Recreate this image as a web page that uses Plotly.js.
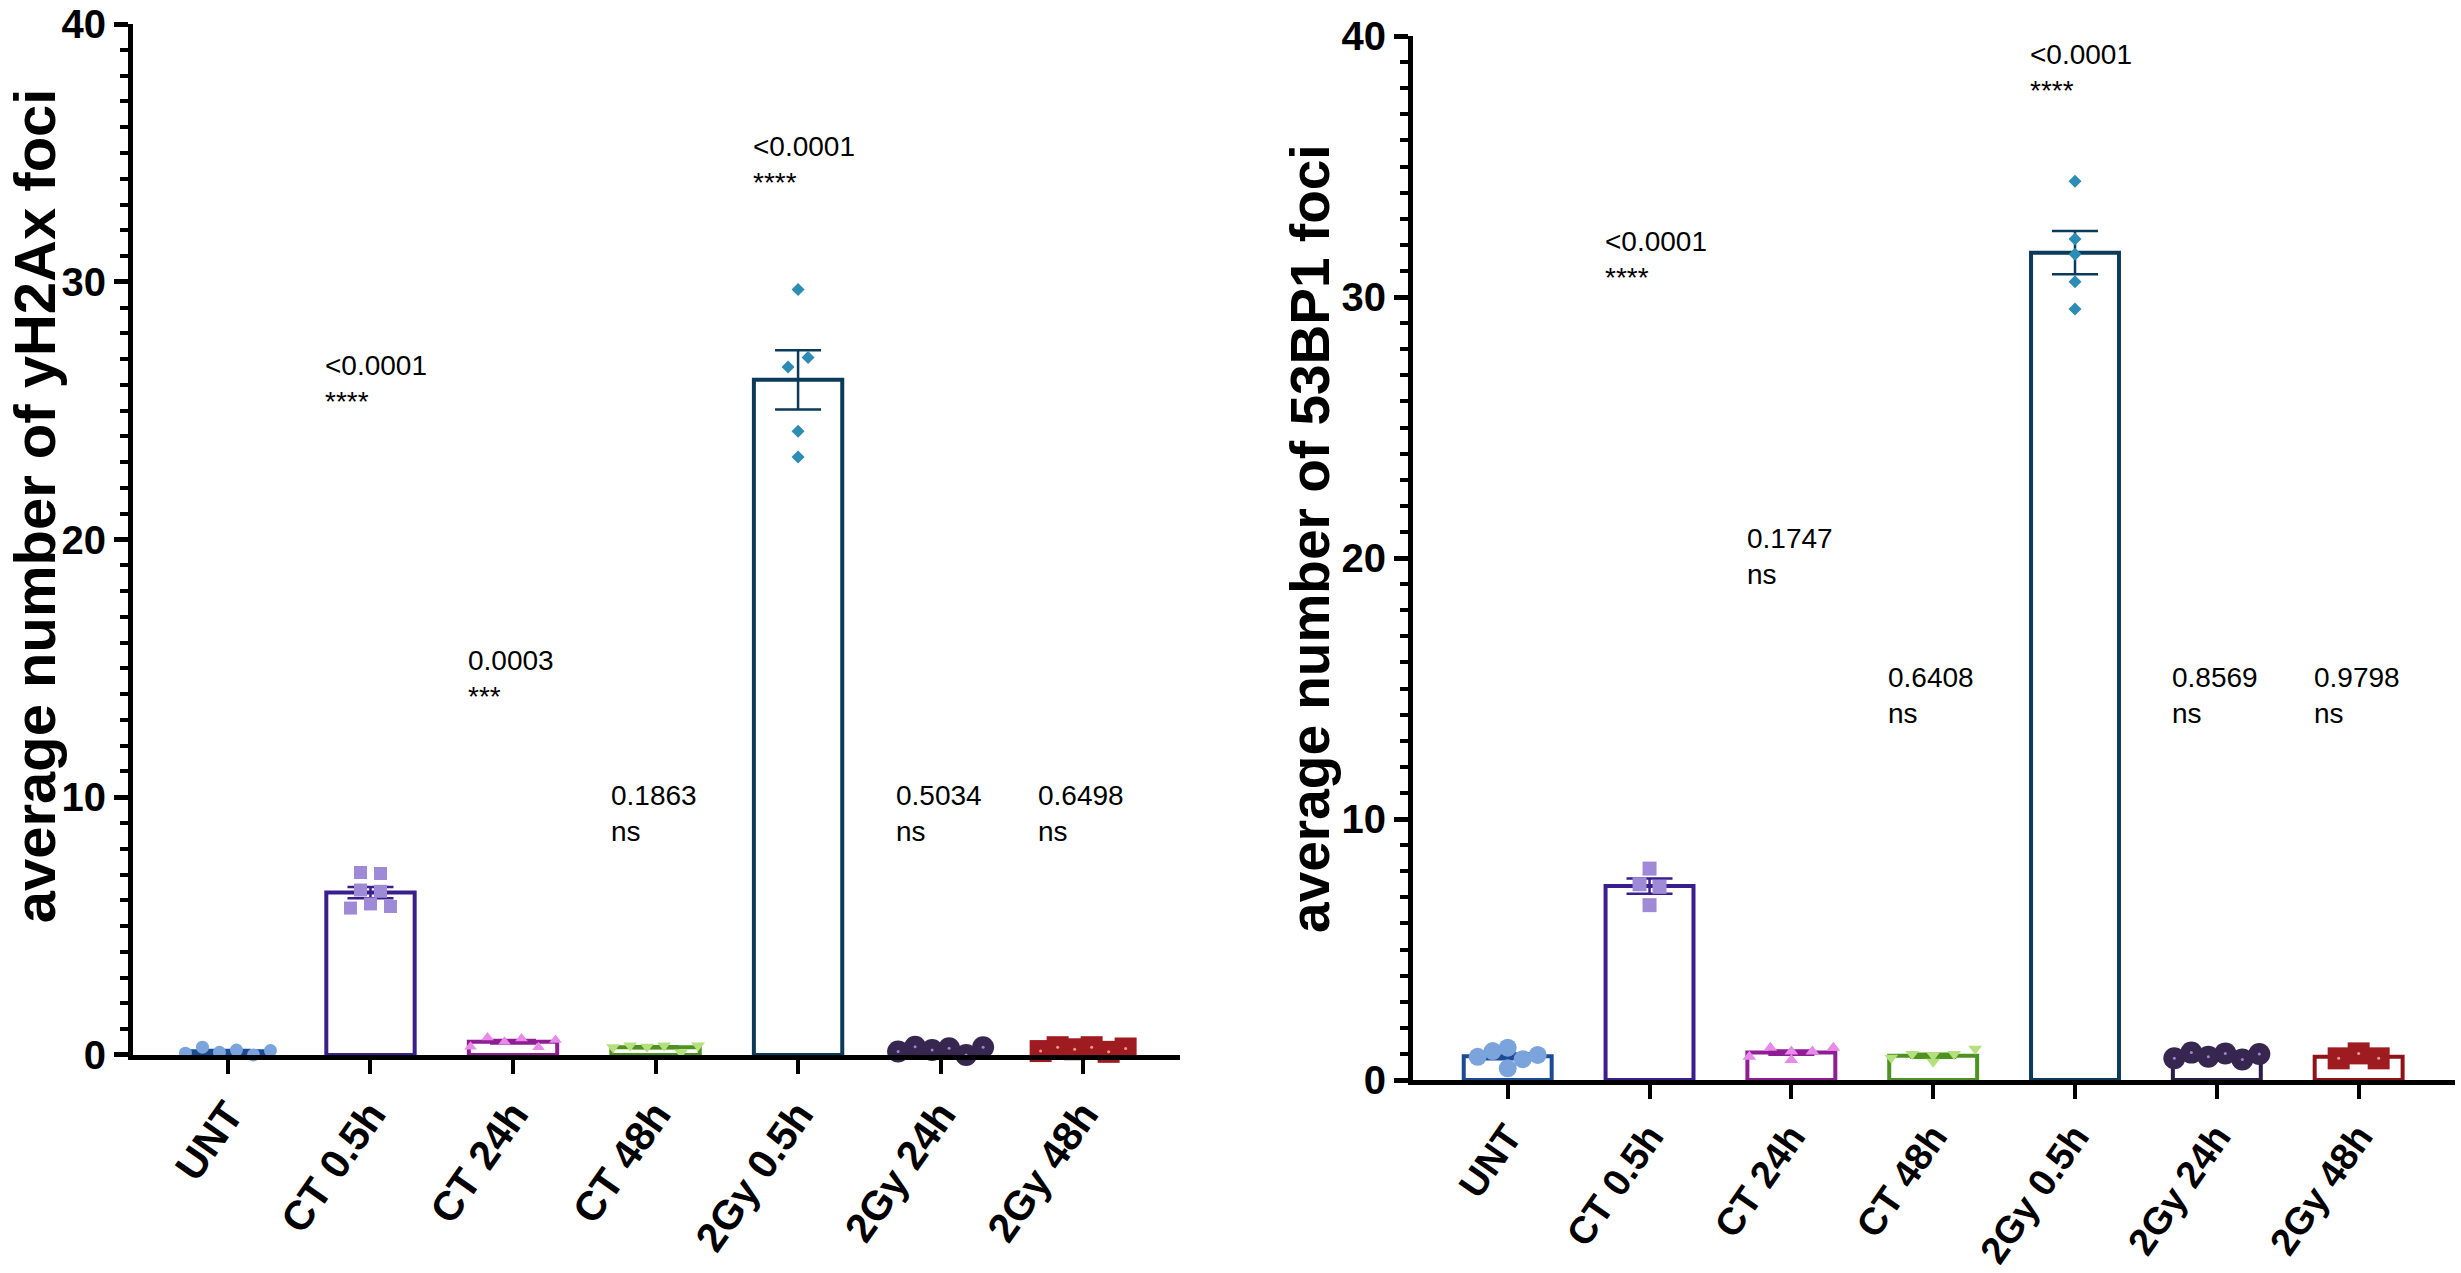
<!DOCTYPE html>
<html>
<head>
<meta charset="utf-8">
<script src="https://cdn.plot.ly/plotly-3.0.1.min.js"></script>
<style>
  html, body { margin: 0; padding: 0; background: #fff; }
  #chart { width: 2461px; height: 1273px; }
</style>
</head>
<body>
<div id="chart"></div>
<script>
// groups on the x axis, same for both panels
const GROUPS = ['UNT', 'CT 0.5h', 'CT 24h', 'CT 48h', '2Gy 0.5h', '2Gy 24h', '2Gy 48h'];

// left panel: average number of yH2Ax foci
const h2axMean = [0.14, 6.3, 0.51, 0.3, 26.2, 0.22, 0.22];
const h2axSem = [0.05, 0.22, 0.07, 0.04, 1.15, 0.05, 0.03];
const h2axPoints = [
  [0.07, 0.3, 0.1, 0.19, 0.0, 0.17],
  [7.08, 7.04, 6.4, 6.35, 5.7, 5.86, 5.76],
  [0.32, 0.68, 0.51, 0.64, 0.3, 0.58],
  [0.3, 0.37, 0.32, 0.37, 0.09, 0.37],
  [29.7, 26.7, 27.07, 24.2, 23.2],
  [0.13, 0.32, 0.19, 0.26, 0.0, 0.3],
  [0.15, 0.3, 0.22, 0.3, 0.12, 0.25],
];
const h2axP = ['', '<0.0001', '0.0003', '0.1863', '<0.0001', '0.5034', '0.6498'];
const h2axStars = ['', '****', '***', 'ns', '****', 'ns', 'ns'];

// right panel: average number of 53BP1 foci
const bp1Mean = [0.91, 7.43, 1.05, 0.93, 31.7, 0.93, 0.89];
const bp1Sem = [0.11, 0.29, 0.08, 0.08, 0.83, 0.04, 0.06];
const bp1Points = [
  [0.89, 1.11, 0.45, 1.24, 0.8, 0.96],
  [8.1, 7.5, 7.4, 6.7],
  [0.89, 1.24, 1.09, 1.09, 1.24, 0.77],
  [0.85, 1.0, 0.95, 1.0, 1.2, 0.7],
  [34.44, 32.22, 31.64, 30.59, 29.54],
  [0.83, 1.05, 0.89, 1.02, 0.79, 1.0],
  [0.83, 1.02, 0.83],
];
const bp1P = ['', '<0.0001', '0.1747', '0.6408', '<0.0001', '0.8569', '0.9798'];
const bp1Stars = ['', '****', 'ns', 'ns', '****', 'ns', 'ns'];

// styles per group
const BAR_LINE = ['#1c4b96', '#3b1e8e', '#8f1d93', '#4e9220', '#0b3a5a', '#2b1f45', '#8f1418'];
const DOT_FILL = ['#7ba3dc', '#9f8ad8', '#e88ae9', '#b4e07e', '#2d8cb4', '#362650', '#9e1b20'];
const CENTER_DOT = [null, null, null, null, null, '#9b86d0', '#f29a9a'];
const SYMBOLS = ['circle', 'square', 'triangle-up', 'triangle-down', 'diamond', 'circle', 'square'];
const SIZE_LEFT = [13, 13, 11, 12, 10, 22, 22];
const SIZE_RIGHT = [18, 14, 12, 12, 10, 22, 22];
const SPREAD_LEFT = [17, 20, 17, 17, 20, 17, 17];
const SPREAD_RIGHT = [15, 20, 21, 21, 20, 17, 20];

// label placement (y of the p-value block)
const H2AX_LABEL_Y = [0, 26.05, 14.6, 9.35, 34.55, 9.35, 9.35];
const BP1_LABEL_Y = [0, 31.45, 20.05, 14.75, 38.6, 14.75, 14.75];

const W = 2461;
const H = 1273;
const X_RANGE = [-0.667, 6.68];
const LEFT_X = [0.054, 0.4795];
const LEFT_Y = [0.1713, 0.981];
const RIGHT_X = [0.5742, 0.9976];
const RIGHT_Y = [0.1516, 0.9717];
const ROW_GAP = 12;

const FONT = 'Liberation Sans, Arial, Helvetica, sans-serif';

// spread points that sit at about the same height into a row, like a scatter dot plot
function swarmOffsets(values, spreadPx, pxX, pxY) {
  const order = values.map((v, i) => i).sort((a, b) => values[b] - values[a]);
  const rows = [];
  order.forEach((i) => {
    const row = rows[rows.length - 1];
    if (row && (values[row[0]] - values[i]) * pxY <= ROW_GAP) {
      row.push(i);
    } else {
      rows.push([i]);
    }
  });
  const offsets = values.map(() => 0);
  rows.forEach((row) => {
    row.sort((a, b) => a - b);
    row.forEach((idx, k) => {
      offsets[idx] = ((k - (row.length - 1) / 2) * spreadPx) / pxX;
    });
  });
  return offsets;
}

function panelTraces(means, sems, points, sizes, spreads, xa, ya, domX, domY) {
  const pxX = ((domX[1] - domX[0]) * W) / (X_RANGE[1] - X_RANGE[0]);
  const pxY = ((domY[1] - domY[0]) * H) / 40;
  const traces = [];

  GROUPS.forEach((g, i) => {
    traces.push({
      type: 'bar',
      x: [i],
      y: [means[i]],
      width: 0.62,
      xaxis: xa,
      yaxis: ya,
      marker: { color: '#ffffff', line: { color: BAR_LINE[i], width: 4 } },
      error_y: {
        type: 'data',
        array: [sems[i]],
        visible: true,
        color: BAR_LINE[i],
        thickness: 2.5,
        width: 23,
      },
      hoverinfo: 'skip',
      showlegend: false,
    });
  });

  GROUPS.forEach((g, i) => {
    const offs = swarmOffsets(points[i], spreads[i], pxX, pxY);
    const xs = points[i].map((v, k) => i + offs[k]);
    traces.push({
      type: 'scatter',
      mode: 'markers',
      x: xs,
      y: points[i],
      xaxis: xa,
      yaxis: ya,
      cliponaxis: false,
      marker: {
        symbol: SYMBOLS[i],
        size: sizes[i],
        color: DOT_FILL[i],
        line: { width: 0 },
      },
      hoverinfo: 'skip',
      showlegend: false,
    });
    if (CENTER_DOT[i]) {
      traces.push({
        type: 'scatter',
        mode: 'markers',
        x: xs,
        y: points[i],
        xaxis: xa,
        yaxis: ya,
        cliponaxis: false,
        marker: { symbol: 'circle', size: 3, color: CENTER_DOT[i], line: { width: 0 } },
        hoverinfo: 'skip',
        showlegend: false,
      });
    }
  });
  return traces;
}

function xAxis(domain, anchor, fontSize) {
  return {
    domain,
    anchor,
    range: X_RANGE,
    tickmode: 'array',
    tickvals: GROUPS.map((g, i) => i),
    ticktext: GROUPS,
    tickangle: -55,
    ticks: 'outside',
    ticklen: 14,
    tickwidth: 4,
    tickcolor: '#000',
    showline: true,
    linewidth: 5,
    linecolor: '#000',
    showgrid: false,
    zeroline: false,
    fixedrange: true,
    ticklabeloverflow: 'allow',
    tickfont: { family: FONT, size: fontSize, weight: 'bold', color: '#000' },
  };
}

function yAxis(domain, anchor) {
  return {
    domain,
    anchor,
    range: [0, 40],
    tick0: 0,
    dtick: 10,
    ticks: 'outside',
    ticklen: 14,
    tickwidth: 5,
    tickcolor: '#000',
    minor: { dtick: 1, ticks: 'outside', ticklen: 8, tickwidth: 4, tickcolor: '#000' },
    showline: true,
    linewidth: 5,
    linecolor: '#000',
    showgrid: false,
    zeroline: false,
    fixedrange: true,
    ticklabeloverflow: 'allow',
    tickfont: { family: FONT, size: 40, weight: 'bold', color: '#000' },
  };
}

function pLabels(pvals, stars, ys, xref, yref) {
  return pvals.map((p, i) => (p ? {
    xref,
    yref,
    x: i - 0.33,
    y: ys[i],
    xanchor: 'left',
    yanchor: 'middle',
    align: 'left',
    showarrow: false,
    text: `${p}<br>${stars[i]}`,
    font: { family: FONT, size: 28, color: '#000' },
  } : null)).filter((a) => a !== null);
}

const data = [
  ...panelTraces(h2axMean, h2axSem, h2axPoints, SIZE_LEFT, SPREAD_LEFT, 'x', 'y', LEFT_X, LEFT_Y),
  ...panelTraces(bp1Mean, bp1Sem, bp1Points, SIZE_RIGHT, SPREAD_RIGHT, 'x2', 'y2', RIGHT_X, RIGHT_Y),
];

const layout = {
  width: W,
  height: H,
  margin: { l: 0, r: 0, t: 0, b: 0 },
  paper_bgcolor: '#fff',
  plot_bgcolor: '#fff',
  barmode: 'overlay',
  showlegend: false,
  xaxis: xAxis(LEFT_X, 'y', 41),
  yaxis: yAxis(LEFT_Y, 'x'),
  xaxis2: xAxis(RIGHT_X, 'y2', 38),
  yaxis2: yAxis(RIGHT_Y, 'x2'),
  annotations: [
    ...pLabels(h2axP, h2axStars, H2AX_LABEL_Y, 'x', 'y'),
    ...pLabels(bp1P, bp1Stars, BP1_LABEL_Y, 'x2', 'y2'),
    {
      xref: 'paper',
      yref: 'paper',
      x: 0.0138,
      y: 0.603,
      xanchor: 'center',
      yanchor: 'middle',
      textangle: -90,
      showarrow: false,
      text: 'average number of yH2Ax foci',
      font: { family: FONT, size: 58, weight: 'bold', color: '#000' },
    },
    {
      xref: 'paper',
      yref: 'paper',
      x: 0.5325,
      y: 0.577,
      xanchor: 'center',
      yanchor: 'middle',
      textangle: -90,
      showarrow: false,
      text: 'average number of 53BP1 foci',
      font: { family: FONT, size: 55, weight: 'bold', color: '#000' },
    },
  ],
};

Plotly.newPlot('chart', data, layout, { displayModeBar: false, staticPlot: true });
</script>
</body>
</html>
